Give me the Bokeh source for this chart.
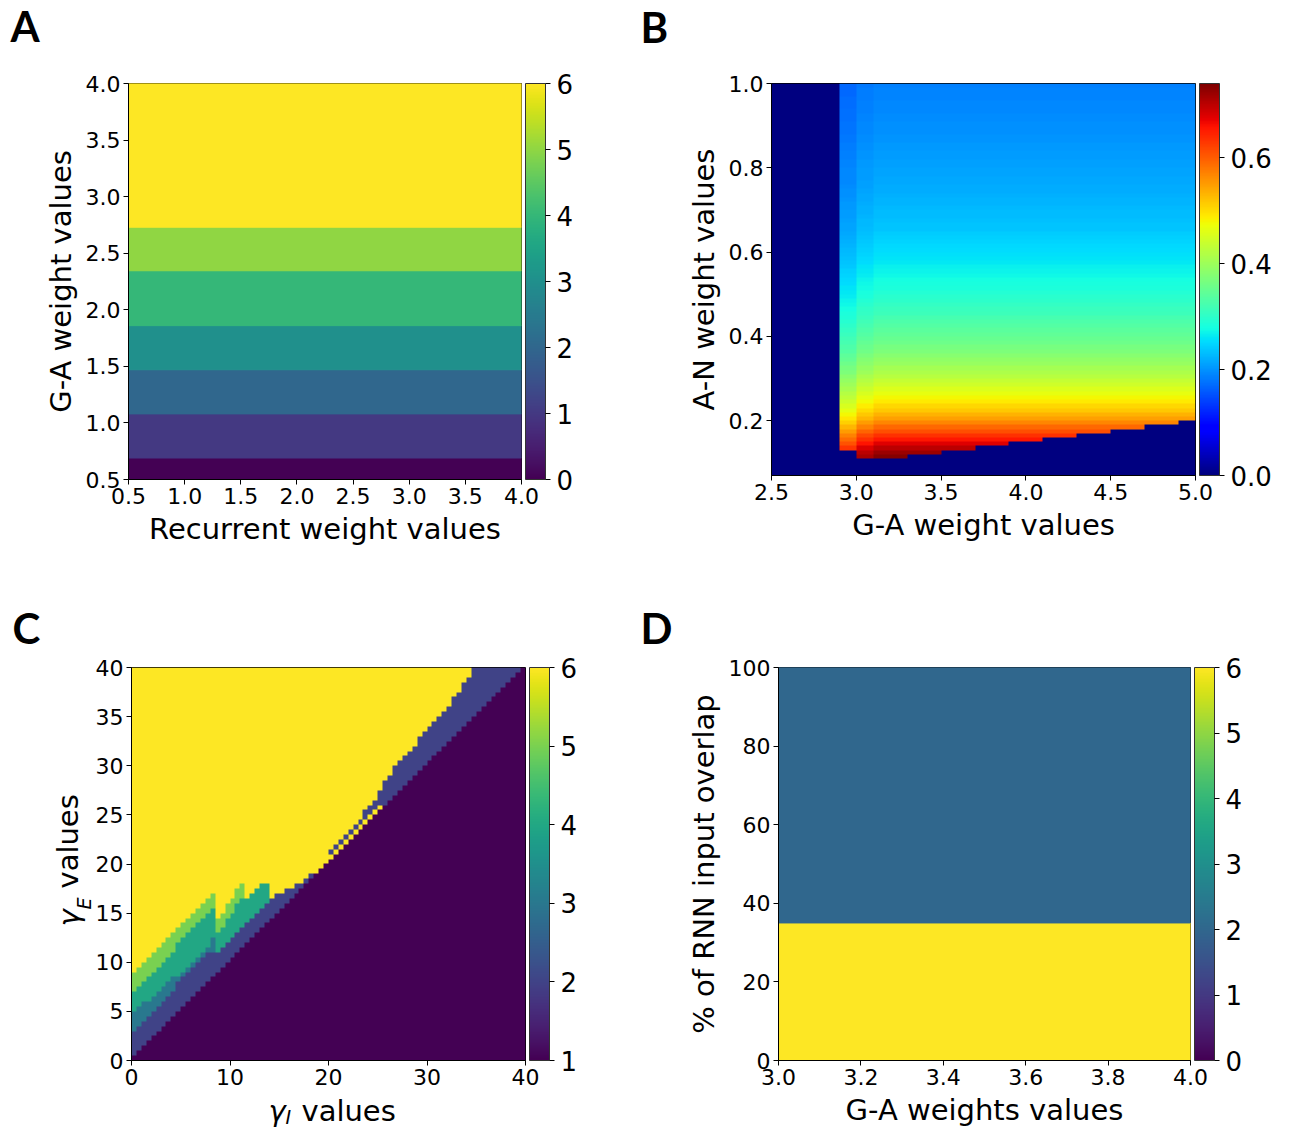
import numpy as np
from bokeh.plotting import figure
from bokeh.models import (LinearColorMapper, ColorBar, FixedTicker,
                          PrintfTickFormatter, Label, ColumnDataSource)
from bokeh.layouts import column, row
from bokeh.palettes import Viridis256
from bokeh.transform import linear_cmap
from bokeh.embed import file_html
from bokeh.resources import INLINE

FONT = "DejaVu Sans"
LETTER_FONT = "Lato"

# ---------------- Panel A data ----------------
a_x_extent = [0.5, 4.0]
a_band_bottom = [0.5, 0.69, 1.08, 1.47, 1.86, 2.345, 2.73]
a_band_top = [0.69, 1.08, 1.47, 1.86, 2.345, 2.73, 4.0]
a_band_value = [0, 1, 2, 3, 4, 5, 6]
a_ticks = [0.5, 1.0, 1.5, 2.0, 2.5, 3.0, 3.5, 4.0]
a_cbar_ticks = [0, 1, 2, 3, 4, 5, 6]

# ---------------- Panel B data ----------------
b_col_left = [2.5, 2.6, 2.7, 2.8, 2.9, 3.0, 3.1, 3.2, 3.3, 3.4, 3.5, 3.6, 3.7,
              3.8, 3.9, 4.0, 4.1, 4.2, 4.3, 4.4, 4.5, 4.6, 4.7, 4.8, 4.9]
b_col_width = 0.1
b_col_factor = [0, 0, 0, 0, 0.90, 0.97, 1.0, 1.0, 1.0, 1.0, 1.0, 1.0, 1.0,
                1.0, 1.0, 1.0, 1.0, 1.0, 1.0, 1.0, 1.0, 1.0, 1.0, 1.0, 1.0]
b_col_cutoff = [1.01, 1.01, 1.01, 1.01, 0.13, 0.11, 0.11, 0.11, 0.12, 0.12, 0.13,
                0.13, 0.14, 0.14, 0.15, 0.15, 0.16, 0.16, 0.17, 0.17, 0.18, 0.18,
                0.19, 0.19, 0.20]
b_row_bottom0 = 0.07
b_row_height = 0.01
b_profile = [0, 0, 0, 0,
             0.735, 0.722, 0.702, 0.677, 0.655, 0.635, 0.612, 0.590, 0.568, 0.548,
             0.532, 0.517, 0.503, 0.490, 0.478, 0.466, 0.455, 0.444, 0.434, 0.424,
             0.414, 0.405, 0.396, 0.388, 0.380, 0.372, 0.365, 0.358, 0.351, 0.345,
             0.339, 0.333, 0.327, 0.321, 0.315, 0.310, 0.305, 0.300, 0.295, 0.290,
             0.286, 0.282, 0.278, 0.274, 0.270, 0.266, 0.262, 0.258, 0.255, 0.252,
             0.249, 0.246, 0.243, 0.240, 0.237, 0.235, 0.233, 0.231, 0.229, 0.227,
             0.225, 0.223, 0.221, 0.219, 0.217, 0.215, 0.214, 0.213, 0.212, 0.211,
             0.209, 0.207, 0.206, 0.205, 0.203, 0.201, 0.200, 0.199, 0.198, 0.197,
             0.195, 0.194, 0.193, 0.192, 0.191, 0.190, 0.189, 0.188, 0.187]
b_vmax = 0.74
b_x_ticks = [2.5, 3.0, 3.5, 4.0, 4.5, 5.0]
b_y_ticks = [0.2, 0.4, 0.6, 0.8, 1.0]
b_cbar_ticks = [0.0, 0.2, 0.4, 0.6]

# ---------------- Panel C data ----------------
c_cell = 0.5
c_top1 = [1, 2, 3, 4, 5, 6, 7, 8, 9, 10, 11, 12, 13, 14, 15, 16, 17, 18, 19, 20,
          21, 22, 23, 24, 25, 26, 27, 28, 29, 30, 31, 32, 33, 34, 35, 36, 37, 38, 39, 40,
          41, 42, 43, 44, 45, 46, 47, 48, 49, 50, 51, 52, 53, 54, 55, 56, 57, 58, 59, 60,
          61, 62, 63, 64, 65, 66, 67, 68, 69, 70, 71, 72, 73, 74, 75, 76, 77, 78, 79, 80]
c_gap6 = [0] * 40 + [1] * 11 + [0] * 29
c_top2 = [6, 7, 8, 9, 10, 11, 12, 13, 14, 16,
          17, 18, 19, 20, 21, 22, 22, 22, 23, 24,
          25, 26, 27, 28, 29, 30, 31, 32, 33, 34,
          34, 35, 35, 36, 36, 37, 38, 38, 39, 40,
          43, 44, 45, 46, 47, 48, 49, 51, 52, 53,
          55, 57, 58, 60, 61, 62, 63, 64, 66, 67,
          68, 69, 70, 71, 72, 74, 75, 77, 78, 80,
          80, 80, 80, 80, 80, 80, 80, 80, 80, 80]
c_top3 = [10, 11, 12, 12, 13, 14, 15, 16, 17, 17,
          18, 19, 20, 21, 22, 23, 25] + c_top2[17:]
c_top4 = [14, 15, 16, 17, 18, 19, 20, 21, 22, 24,
          25, 26, 27, 28, 29, 30, 31,
          26, 27, 29, 30, 32, 33,
          33, 34, 35, 36, 36] + c_top2[28:]
c_top5 = [18, 19, 20, 21, 22, 23, 24, 25, 26, 27,
          28, 29, 30, 31, 32, 33, 34,
          29, 30, 32, 33, 35, 36,
          33, 34, 35, 36, 36] + c_top2[28:]
c_ticks_x = [0, 10, 20, 30, 40]
c_ticks_y = [0, 5, 10, 15, 20, 25, 30, 35, 40]
c_cbar_ticks = [1, 2, 3, 4, 5, 6]

# ---------------- Panel D data ----------------
d_x_extent = [3.0, 4.0]
d_band_bottom = [0, 35]
d_band_top = [35, 100]
d_band_value = [6, 2]
d_x_ticks = [3.0, 3.2, 3.4, 3.6, 3.8, 4.0]
d_y_ticks = [0, 20, 40, 60, 80, 100]
d_cbar_ticks = [0, 1, 2, 3, 4, 5, 6]


def jet_palette(n=256):
    t = np.linspace(0, 1, n)
    r = np.interp(t, [0, 0.35, 0.66, 0.89, 1], [0, 0, 1, 1, 0.5])
    g = np.interp(t, [0, 0.125, 0.375, 0.64, 0.91, 1], [0, 0, 1, 1, 0, 0])
    b = np.interp(t, [0, 0.11, 0.34, 0.65, 1], [0.5, 1, 1, 0, 0])
    return ["#%02x%02x%02x" % (int(round(255 * a)), int(round(255 * bb)), int(round(255 * c)))
            for a, bb, c in zip(r, g, b)]


def make_fig(xr, yr, fw, fh, left, right, top, bottom):
    p = figure(x_range=xr, y_range=yr, frame_width=fw, frame_height=fh,
               min_border_left=left, min_border_right=right,
               min_border_top=top, min_border_bottom=bottom,
               output_backend="svg", toolbar_location=None)
    p.outline_line_color = "black"
    p.outline_line_width = 1
    p.grid.visible = False
    p.background_fill_color = "white"
    p.border_fill_color = "white"
    for ax in (p.xaxis[0], p.yaxis[0]):
        ax.major_label_text_font = FONT
        ax.major_label_text_font_size = "22px"
        ax.major_label_text_color = "black"
        ax.axis_label_text_font = FONT
        ax.axis_label_text_font_size = "29px"
        ax.axis_label_text_font_style = "normal"
        ax.axis_label_text_color = "black"
        ax.major_tick_in = 0
        ax.major_tick_out = 5
        ax.minor_tick_in = 0
        ax.minor_tick_out = 0
        ax.axis_line_color = "black"
        ax.major_tick_line_color = "black"
        ax.major_label_standoff = 3
        ax.axis_label_standoff = 5
    return p


def add_cbar(p, mapper, ticks, fmt, fh):
    cb = ColorBar(color_mapper=mapper, ticker=FixedTicker(ticks=ticks),
                  formatter=PrintfTickFormatter(format=fmt),
                  width=20, height=fh, padding=0, location=(4, 0),
                  major_label_text_font=FONT, major_label_text_font_size="26px",
                  major_label_text_color="black",
                  major_tick_in=0, major_tick_out=5, major_tick_line_color="black",
                  minor_tick_line_color=None,
                  bar_line_color="#333333", bar_line_width=1,
                  border_line_color=None, background_fill_color=None,
                  label_standoff=6)
    p.add_layout(cb, "right")


def mk_label(text, x, y, size, font=FONT, style="normal", angle=0.0):
    return Label(x=x, y=y, x_units="screen", y_units="screen", text=text,
                 text_font=font, text_font_size=size, text_font_style=style,
                 text_color="black", angle=angle,
                 text_baseline="alphabetic", text_align="left")


# ---------------- Panel A ----------------
pA = make_fig((0.5, 4.0), (0.5, 4.0), 393, 396, 128, 115, 83, 89)
srcA = ColumnDataSource(dict(l=[a_x_extent[0]] * len(a_band_value),
                             r=[a_x_extent[1]] * len(a_band_value),
                             b=a_band_bottom, t=a_band_top, v=a_band_value))
cmapA = linear_cmap("v", Viridis256, 0, 6)
pA.quad(left="l", right="r", bottom="b", top="t", source=srcA,
        fill_color=cmapA, line_color=cmapA, line_width=1)
pA.xaxis.ticker = FixedTicker(ticks=a_ticks)
pA.yaxis.ticker = FixedTicker(ticks=a_ticks)
pA.xaxis.formatter = PrintfTickFormatter(format="%.1f")
pA.yaxis.formatter = PrintfTickFormatter(format="%.1f")
pA.xaxis.axis_label = "Recurrent weight values"
pA.yaxis.axis_label = "G-A weight values"
add_cbar(pA, LinearColorMapper(palette=Viridis256, low=0, high=6), a_cbar_ticks, "%d", 396)
pA.add_layout(mk_label("A", -118, 58, "42px", LETTER_FONT, "bold"), "above")

# ---------------- Panel B ----------------
nrows = len(b_profile)
ncols = len(b_col_left)
B = np.zeros((nrows, ncols))
for j in range(ncols):
    for r in range(nrows):
        ybot = b_row_bottom0 + r * b_row_height
        if ybot >= b_col_cutoff[j] - 1e-9:
            B[r, j] = b_profile[r] * b_col_factor[j]
b_x0 = b_col_left[0]
b_x1 = b_col_left[-1] + b_col_width
b_y1 = b_row_bottom0 + nrows * b_row_height
pB = make_fig((b_x0, b_x1), (b_row_bottom0, b_y1), 424, 392, 135, 92, 82, 94)
jet_mapper = LinearColorMapper(palette=jet_palette(), low=0, high=b_vmax)
pB.image(image=[B], x=b_x0, y=b_row_bottom0, dw=b_x1 - b_x0, dh=b_y1 - b_row_bottom0,
         color_mapper=jet_mapper)
pB.xaxis.ticker = FixedTicker(ticks=b_x_ticks)
pB.yaxis.ticker = FixedTicker(ticks=b_y_ticks)
pB.xaxis.formatter = PrintfTickFormatter(format="%.1f")
pB.yaxis.formatter = PrintfTickFormatter(format="%.1f")
pB.xaxis.axis_label = "G-A weight values"
pB.yaxis.axis_label = "A-N weight values"
add_cbar(pB, jet_mapper, b_cbar_ticks, "%.1f", 392)
pB.add_layout(mk_label("B", -131, 57, "42px", LETTER_FONT, "bold"), "above")

# ---------------- Panel C ----------------
n = len(c_top1)
C = np.full((n, n), 6.0)
for i in range(n):
    p0 = c_top1[i]
    C[:p0, i] = 1
    g = c_gap6[i]
    C[p0:p0 + g, i] = 6
    C[p0 + g:c_top2[i], i] = 2
    C[c_top2[i]:c_top3[i], i] = 3
    C[c_top3[i]:c_top4[i], i] = 4
    C[c_top4[i]:c_top5[i], i] = 5
c_ext = n * c_cell
pC = make_fig((0, c_ext), (0, c_ext), 394, 393, 131, 111, 99, 65)
vir16 = LinearColorMapper(palette=Viridis256, low=1, high=6)
pC.image(image=[C], x=0, y=0, dw=c_ext, dh=c_ext, color_mapper=vir16)
pC.xaxis.ticker = FixedTicker(ticks=c_ticks_x)
pC.yaxis.ticker = FixedTicker(ticks=c_ticks_y)
add_cbar(pC, vir16, c_cbar_ticks, "%d", 393)
pC.add_layout(mk_label("C", -119, 40, "42px", LETTER_FONT, "bold"), "above")

# axis labels with subscripts: pieces placed in the side panels
pC.add_layout(mk_label("γ", 137, 11, "29px", style="italic"), "below")
pC.add_layout(mk_label("I", 154, 27, "19px", style="italic"), "below")
pC.add_layout(mk_label("values", 170, 67, "29px"), "below")
pC.add_layout(mk_label("γ", 10, 134, "29px", style="italic", angle=np.pi / 2), "left")
pC.add_layout(mk_label("E", 47, 151, "19px", style="italic", angle=np.pi / 2), "left")
pC.add_layout(mk_label("values", 65, 172, "29px", angle=np.pi / 2), "left")

# ---------------- Panel D ----------------
pD = make_fig((3.0, 4.0), (0, 100), 412, 393, 142, 92, 99, 65)
srcD = ColumnDataSource(dict(l=[d_x_extent[0]] * len(d_band_value),
                             r=[d_x_extent[1]] * len(d_band_value),
                             b=d_band_bottom, t=d_band_top, v=d_band_value))
cmapD = linear_cmap("v", Viridis256, 0, 6)
pD.quad(left="l", right="r", bottom="b", top="t", source=srcD,
        fill_color=cmapD, line_color=cmapD, line_width=1)
pD.xaxis.ticker = FixedTicker(ticks=d_x_ticks)
pD.yaxis.ticker = FixedTicker(ticks=d_y_ticks)
pD.xaxis.formatter = PrintfTickFormatter(format="%.1f")
pD.yaxis.formatter = PrintfTickFormatter(format="%d")
pD.xaxis.axis_label = "G-A weights values"
pD.yaxis.axis_label = "% of RNN input overlap"
add_cbar(pD, LinearColorMapper(palette=Viridis256, low=0, high=6), d_cbar_ticks, "%d", 393)
pD.add_layout(mk_label("D", -138, 40, "42px", LETTER_FONT, "bold"), "above")

layout = column(row(pA, pB, spacing=0), row(pC, pD, spacing=0), spacing=0)
open("out.html", "w").write(file_html(layout, INLINE))
